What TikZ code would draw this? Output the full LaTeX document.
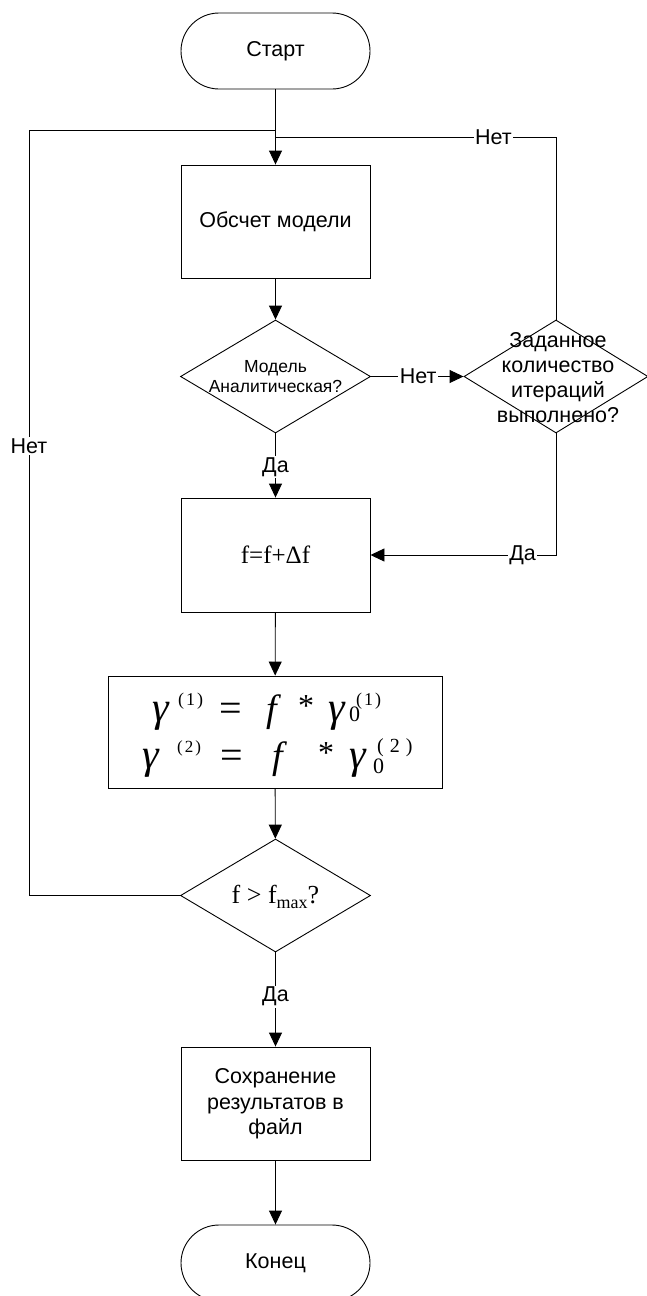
\documentclass[tikz,border=0pt]{standalone}
\usepackage{fontspec}
\setmainfont{Liberation Sans}
\newfontfamily\serifface{Liberation Serif}
\usetikzlibrary{arrows.meta,shapes.geometric}

% place #2 at horizontal offset #1 from the current point, without advancing
\newcommand\putat[2]{\rlap{\hspace*{#1}#2}}
% raised index in parentheses: #1 size, #2 inner gap, #3 index
\newcommand\gsup[3]{\raisebox{16pt}{\fontsize{#1}{#1}\selectfont (\hspace{#2}#3\hspace{#2})}}
\newcommand\gsub[2]{\raisebox{#1}{\fontsize{22}{22}\selectfont #2}}
\newcommand\gam{{\fontsize{42}{42}\selectfont\itshape γ}}
\newcommand\eqs{{\fontsize{40}{40}\selectfont =}}
\newcommand\starsign{\raisebox{5pt}{\fontsize{32}{32}\selectfont *}}

\tikzset{
  base/.style={draw, line width=0.9pt, inner sep=0pt},
  txt/.style={font=\fontsize{21.5}{25}\selectfont, align=center},
  term/.style={base, txt, rectangle, rounded corners=38pt,
               minimum width=189pt, minimum height=76pt},
  proc/.style={base, txt, rectangle, minimum width=189pt, minimum height=113pt},
  dec/.style={base, diamond, minimum width=190pt, minimum height=113pt},
  conn/.style={line width=0.9pt},
  arr/.style={conn, -{Triangle[length=14pt,width=13pt]}},
  lbl/.style={fill=white, inner sep=1.5pt, font=\fontsize{21.5}{25}\selectfont},
}

\begin{document}
\begin{tikzpicture}[x=1pt,y=-1pt]
\useasboundingbox (0,0) rectangle (646,1296);

% main column
\node[term] (start) at (275.5,51) {Старт};
\node[proc] (calc) at (275.5,221.5) {Обсчет модели};
\node[dec] (q1) at (275.5,376.5) {};
\node[txt, font=\fontsize{17.5}{20}\selectfont] (q1t) at (275.5,377) {Модель\\Аналитическая?};
\node[dec, minimum width=184pt] (q2) at (556,376.5) {};
\node[txt] (q2t) at (558,378) {Заданное\\количество\\итераций\\выполнено?};
\node[proc, minimum height=114pt, font=\serifface\fontsize{25}{25}\selectfont] (fbox) at (275.5,555) {f=f+Δf};
\node[base, rectangle, minimum width=334pt, minimum height=112pt] (gbox) at (275,732) {};
\node[anchor=base west, inner sep=0pt] (g1) at (152,721) {\serifface\fontsize{38}{38}\selectfont
  \putat{0pt}{\gam}\putat{26pt}{\gsup{18}{2pt}{1}}\putat{67pt}{\eqs}%
  \putat{114pt}{\itshape f}\putat{146pt}{\starsign}\putat{176pt}{\gam}%
  \putat{197pt}{\gsub{0pt}{0}}\putat{204pt}{\gsup{18}{2pt}{1}}\hspace*{232pt}};
\node[anchor=base west, inner sep=0pt] (g2) at (142,768) {\serifface\fontsize{38}{38}\selectfont
  \putat{0pt}{\gam}\putat{35pt}{\gsup{17}{2pt}{2}}\putat{78pt}{\eqs}%
  \putat{130pt}{\itshape f}\putat{176pt}{\starsign}\putat{207pt}{\gam}%
  \putat{231pt}{\gsub{-5pt}{0}}\putat{235pt}{\gsup{20}{6pt}{2}}\hspace*{284pt}};
\node[dec] (q3) at (275.5,895.5) {};
\node[anchor=base, inner sep=0pt] (q3t) at (275.5,903) {\serifface\fontsize{26}{26}\selectfont
  f > f\raisebox{-5pt}{\fontsize{18}{18}\selectfont max}?};
\node[proc] (save) at (275.5,1103.5) {Сохранение\\[1pt]результатов в\\файл};
\node[term] (finish) at (275.5,1263) {Конец};

% junctions of the two loop-back lines
\coordinate (jl) at (275.5,130);
\coordinate (jr) at (275.5,137);
\coordinate (lb) at (29,895.5);
\coordinate (lt) at (29,130);
\coordinate (rt) at (q2.north |- jr);

% straight flow
\draw[arr] (start) -- (calc);
\draw[arr] (calc) -- (q1);
\draw[arr] (q1.east) -- node[lbl, pos=0.51] {Нет} (q2.west);
\draw[arr] (q1.south) -- node[lbl, pos=0.52] {Да} (fbox.north);
\draw[arr] (q2.south) |- node[lbl, pos=0.59] {Да} (fbox.east);
\draw[arr] (fbox) -- (gbox);
\draw[arr] (gbox) -- (q3);
\draw[arr] (q3.south) -- node[lbl, pos=0.47] {Да} (save.north);
\draw[arr] (save) -- (finish);

% loop-backs
\draw[conn] (q2.north) -- (rt) -- node[lbl, pos=0.223] {Нет} (jr);
\draw[conn] (q3.west) -- (lb) -- node[lbl, pos=0.587] {Нет} (lt) -- (jl);
\end{tikzpicture}
\end{document}
